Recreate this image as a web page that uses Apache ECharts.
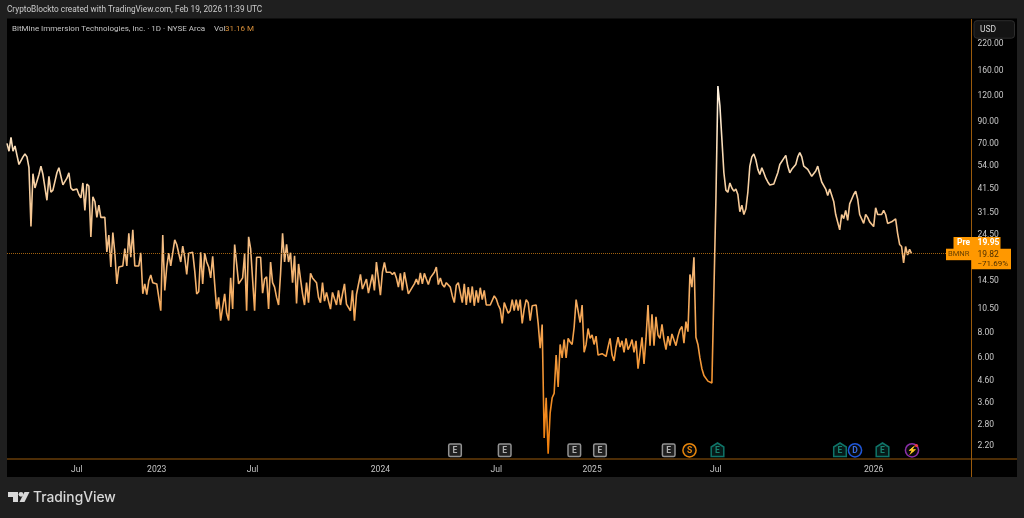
<!DOCTYPE html>
<html>
<head>
<meta charset="utf-8">
<title>BMNR</title>
<script src="https://cdn.jsdelivr.net/npm/echarts@6/dist/echarts.min.js"></script>
<style>
html, body { margin: 0; padding: 0; background: #1f1f1f; }
#main { width: 1024px; height: 518px; }
</style>
</head>
<body>
<div id="main"></div>
<script>
// closes, one list per stretch between two time labels
var closes2022a = [70, 64, 75, 64, 68, 61, 55, 55, 60, 62, 60, 53, 27, 49.5, 42, 42, 49, 54, 49, 49.5, 36.5, 48, 40, 41, 41, 50, 53, 52, 43.5, 44.5, 47, 50, 42, 41, 41.5];
var closes2022b = [41.5, 39, 37.5, 44.5, 32.5, 44, 43, 24, 38, 36, 30, 34.5, 30, 30, 30, 20.2, 24.5, 17, 25.2, 20, 14, 17, 17, 17.2, 21, 17.2, 25, 19, 26, 17.2, 17.2, 17.2, 20, 12.5, 14, 12.4, 14.5, 15.5, 14.2, 14.1];
var closes2023a = [14, 14, 10.3, 24.5, 13, 17, 19.9, 17.2, 20, 23.2, 22, 22, 18, 21.6, 19, 15.6, 19.9, 19.5, 20.1, 16.3, 12.5, 12.8, 20.1, 14, 19.9, 18, 17, 15, 19.2, 14, 10.5, 12, 9.2, 9.2, 12.5, 10, 9.2, 15, 10.5, 22, 17.6, 14, 14, 15, 19.8, 10.3, 24, 21];
var closes2023b = [21, 10.3, 19, 19, 19, 12.6, 14.8, 15.2, 10.5, 18, 14.2, 13.5, 12, 11, 15.8, 25, 18, 22, 18, 20, 14.2, 19.3, 11.2, 17.6, 14.8, 12.5, 11, 14.2, 11.3, 15.8, 15, 14.8, 14.2, 12, 11.3, 14.2, 11.5, 12.7, 11.5, 10.5, 12.7, 11.8, 11, 13, 11, 12.5, 14, 11.1, 11, 10.3, 13, 9.2, 12.4, 12.5, 15.6, 13.2, 13, 14.8, 12.6, 12.7, 15.6, 13, 18, 18];
var closes2024a = [12.3, 16, 17.9, 16, 16, 16, 15.6, 16, 15, 13.5, 15.8, 13, 16, 16, 12.5, 12.3, 13.5, 14, 14.8, 13.9, 15.9, 14, 15.8, 14.8, 13.9, 15, 14.8, 16, 17, 13.9, 15, 13.9, 13.5, 14.2, 14.3, 13.5, 12.2, 11.3, 13.8, 14.2, 14.3, 11.3, 14, 11, 13.5, 11.3, 13.6, 10.9, 13, 11.3, 13.4, 11.7, 13, 11, 11, 11, 11, 12.2];
var closes2024b = [11.8, 11, 10.5, 8.9, 11.3, 11.3, 10, 10.3, 11.7, 10.3, 11.7, 10.3, 11.7, 8.9, 10.5, 11.7, 11.3, 9.2, 10.9, 11, 11, 8.9, 6.7, 8.8, 2.4, 3.8, 2.0, 3.2, 3.8, 4, 6.2, 4.3, 7, 6, 7.4, 6, 7.5, 7.2, 7, 8.5, 11.7, 11.7, 9, 11, 6.4, 7, 8.4, 7.5];
var closes2025a = [7.8, 7, 7.7, 6.2, 6.2, 6.3, 6.3, 6.1, 6.8, 7.5, 6.2, 5.8, 6.8, 7.6, 6.8, 7.3, 6.4, 7.5, 6.6, 6.9, 7.4, 6.4, 7.3, 5.3, 5.4, 7.6, 5.6, 7.5, 11, 6.9, 9.9, 6.9, 9.6, 7.8, 7.5, 8.8, 7.4, 6.6, 7.7, 6.9, 7.9, 7.8, 6.9, 7.7, 8.3, 8.6, 7.1, 9.1, 8.1, 15.6, 13.5, 19, 7.6, 7, 6, 5.3, 4.9, 4.8, 4.6, 4.5, 4.5, 4.4];
var closes2025b = [36.5, 135, 108, 108, 50, 41, 40, 44.5, 42, 40.5, 41.5, 39, 32, 34.5, 31, 33, 40, 54, 60, 62, 58, 52, 49, 53, 50, 47, 45, 43.5, 43, 44, 47, 50, 55, 56, 59, 61, 54, 50, 52, 52.5, 55, 60, 63, 60, 54, 53, 52, 50, 48, 48, 51, 54, 49, 45, 44, 41.5, 38.5, 41.5, 41, 36, 31, 31.5, 26, 31, 29.6, 32.5, 29, 35, 35, 39, 40.5, 37, 31, 29.5, 28, 31, 30, 28.5, 28];
var closes2026 = [27, 33.5, 31, 31, 31, 32.5, 31, 28, 28.5, 28.5, 28, 29.5, 25, 22, 21.5, 17.8, 21.5, 19.5, 20.8, 19.82];

var timeLabels = ["", "Jul", "2023", "Jul", "2024", "Jul", "2025", "Jul", "2026"];
var priceTicks = [220, 160, 120, 90, 70, 54, 41.5, 31.5, 24.5, 14.5, 10.5, 8, 6, 4.6, 3.6, 2.8, 2.2];
var lastClose = 19.82;
var preClose = 19.95;
var changePct = "\u221271.69%";
var volume = "31.16 M";
var emptyBars = 30;

var stretches = [closes2022a, closes2022b, closes2023a, closes2023b, closes2024a, closes2024b, closes2025a, closes2025b, closes2026];

var categories = [];
var closes = [];
stretches.forEach(function (list, n) {
    list.forEach(function (v, i) {
        categories.push(i === 0 ? timeLabels[n] : "");
        closes.push(v);
    });
});
for (var k = 0; k < emptyBars; k++) {
    categories.push("");
}

var uiFont = "Roboto, sans-serif";
var axisOrange = "#9a5a0c";

function label(x, y, text, size, color, extra) {
    var style = { x: x, y: y, text: text, fontSize: size, fontFamily: uiFont, fill: color, verticalAlign: "middle" };
    for (var key in (extra || {})) {
        style[key] = extra[key];
    }
    return { type: "text", z: 101, silent: true, style: style };
}

function box(x, y, w, h, fill, stroke, r) {
    return { type: "rect", z: 100, silent: true, shape: { x: x, y: y, width: w, height: h, r: r || 0 }, style: { fill: fill, stroke: stroke || null, lineWidth: stroke ? 1 : 0 } };
}

function rule(x1, y1, x2, y2) {
    return { type: "line", z: 99, silent: true, shape: { x1: x1, y1: y1, x2: x2, y2: y2 }, style: { stroke: axisOrange, lineWidth: 1 } };
}

// earnings / split / dividend badges along the bottom
function squareBadge(x) {
    return [
        { type: "rect", z: 100, silent: true, shape: { x: x - 6.3, y: 444, width: 12.6, height: 12.6, r: 1.5 }, style: { fill: "#202020", stroke: "#939393", lineWidth: 1.5 } },
        label(x, 450.8, "E", 8.5, "#b0b0b0", { align: "center", fontWeight: "bold" })
    ];
}

function houseBadge(x) {
    return [
        { type: "polygon", z: 100, silent: true, shape: { points: [[x - 6.3, 447], [x, 443], [x + 6.3, 447], [x + 6.3, 456.6], [x - 6.3, 456.6]] }, style: { fill: "#061a18", stroke: "#0f7468", lineWidth: 1.5 } },
        label(x, 450.8, "E", 8.5, "#18826f", { align: "center", fontWeight: "bold" })
    ];
}

function roundBadge(x, letter, color, textColor) {
    return [
        { type: "circle", z: 100, silent: true, shape: { cx: x, cy: 450.3, r: 6.6 }, style: { fill: "#0a0a0a", stroke: color, lineWidth: 1.5 } },
        label(x, 450.8, letter, 8.5, textColor || color, { align: "center", fontWeight: "bold" })
    ];
}

var graphics = [
    { type: "rect", z: -1, silent: true, shape: { x: 7, y: 18.5, width: 1010, height: 458.5 }, style: { fill: "#000000" } },
    rule(7, 459, 1017, 459),
    rule(971.5, 19, 971.5, 477),

    label(7, 10, "CryptoBlockto created with TradingView.com, Feb 19, 2026 11:39 UTC", 8.25, "#cccccc"),
    label(12, 28.5, "BitMine Immersion Technologies, Inc. \u00b7 1D \u00b7 NYSE Arca", 8, "#c4c4c4"),
    label(214, 28.5, "Vol", 8, "#c4c4c4"),
    label(225, 28.5, volume, 8, "#d9903a"),

    box(974, 20.7, 40.5, 17.5, "#141414", "#2d2d2d", 3),
    label(980, 30, "USD", 8.5, "#d6d6d6"),

    box(953.5, 237, 47, 12, "#ff9800"),
    label(957, 243, "Pre", 8.5, "#ffffff", { fontWeight: "bold" }),
    label(977.5, 243, preClose.toFixed(2), 8.5, "#ffffff", { fontWeight: "bold" }),
    box(946, 248.7, 26, 11.5, "#ff9800"),
    box(971.5, 248.7, 39.5, 20.5, "#ff9800"),
    label(948, 254.5, "BMNR", 7.6, "#6b4200"),
    label(977.5, 254.5, lastClose.toFixed(2), 8.5, "#4e3000"),
    label(977.5, 264, changePct, 8, "#4e3000"),

    // logo
    { type: "polygon", z: 100, silent: true, shape: { points: [[8, 492], [18, 492], [18, 502], [13, 502], [13, 497], [8, 497]] }, style: { fill: "#d8d8d8" } },
    { type: "circle", z: 100, silent: true, shape: { cx: 21, cy: 494.3, r: 2.4 }, style: { fill: "#d8d8d8" } },
    { type: "polygon", z: 100, silent: true, shape: { points: [[24.5, 492], [29.5, 492], [24.5, 502], [19.5, 502]] }, style: { fill: "#d8d8d8" } },
    label(33, 497.5, "TradingView", 13.8, "#d8d8d8", { fontFamily: "Inter, sans-serif", fontWeight: 500 })
]
    .concat(squareBadge(455), squareBadge(504.7), squareBadge(574.3), squareBadge(600), squareBadge(668.7))
    .concat(roundBadge(689.5, "S", "#e8860c"))
    .concat(houseBadge(717.5), houseBadge(840))
    .concat(roundBadge(855, "D", "#1f56d8", "#3a6de0"))
    .concat(houseBadge(882.5))
    .concat(roundBadge(912, "\u26A1", "#8a2fa8", "#a040c0"))
    .concat([{ type: "circle", z: 102, silent: true, shape: { cx: 916.5, cy: 445.5, r: 1.6 }, style: { fill: "#f23645" } }]);

var myChart = echarts.init(document.getElementById("main"), null, { renderer: "canvas" });

myChart.setOption({
    backgroundColor: "#1f1f1f",
    animation: false,
    graphic: graphics,
    grid: { left: 7, right: 52.5, top: 19, bottom: 59, containLabel: false },
    xAxis: {
        type: "category",
        data: categories,
        boundaryGap: false,
        axisLine: { show: false },
        axisTick: { show: false },
        splitLine: { show: false },
        axisLabel: {
            interval: function (i, v) { return v !== ""; },
            color: "#c4c4c4",
            fontSize: 8.6,
            fontFamily: uiFont,
            margin: 6
        }
    },
    yAxis: {
        type: "log",
        position: "right",
        min: 1.885,
        max: 291,
        logBase: 10,
        axisLine: { show: false },
        axisTick: { show: false },
        splitLine: { show: false },
        minorTick: { show: false },
        axisLabel: {
            customValues: priceTicks,
            formatter: function (v) { return Number(v).toFixed(2); },
            color: "#c9c9c9",
            fontSize: 8.5,
            fontFamily: uiFont,
            margin: 6
        }
    },
    series: [{
        type: "line",
        data: closes,
        symbol: "none",
        smooth: false,
        clip: true,
        lineStyle: {
            width: 1.6,
            color: new echarts.graphic.LinearGradient(0, 0, 0, 1, [
                { offset: 0, color: "#fff3e2" },
                { offset: 0.2, color: "#f8d8b0" },
                { offset: 0.45, color: "#f3bb80" },
                { offset: 0.62, color: "#f5a858" },
                { offset: 0.78, color: "#f29432" },
                { offset: 1, color: "#f07d08" }
            ])
        },
        markLine: {
            silent: true,
            symbol: "none",
            label: { show: false },
            lineStyle: { color: "#a0600f", type: [1, 1], width: 1 },
            data: [{ yAxis: lastClose }]
        }
    }]
});
</script>
</body>
</html>
